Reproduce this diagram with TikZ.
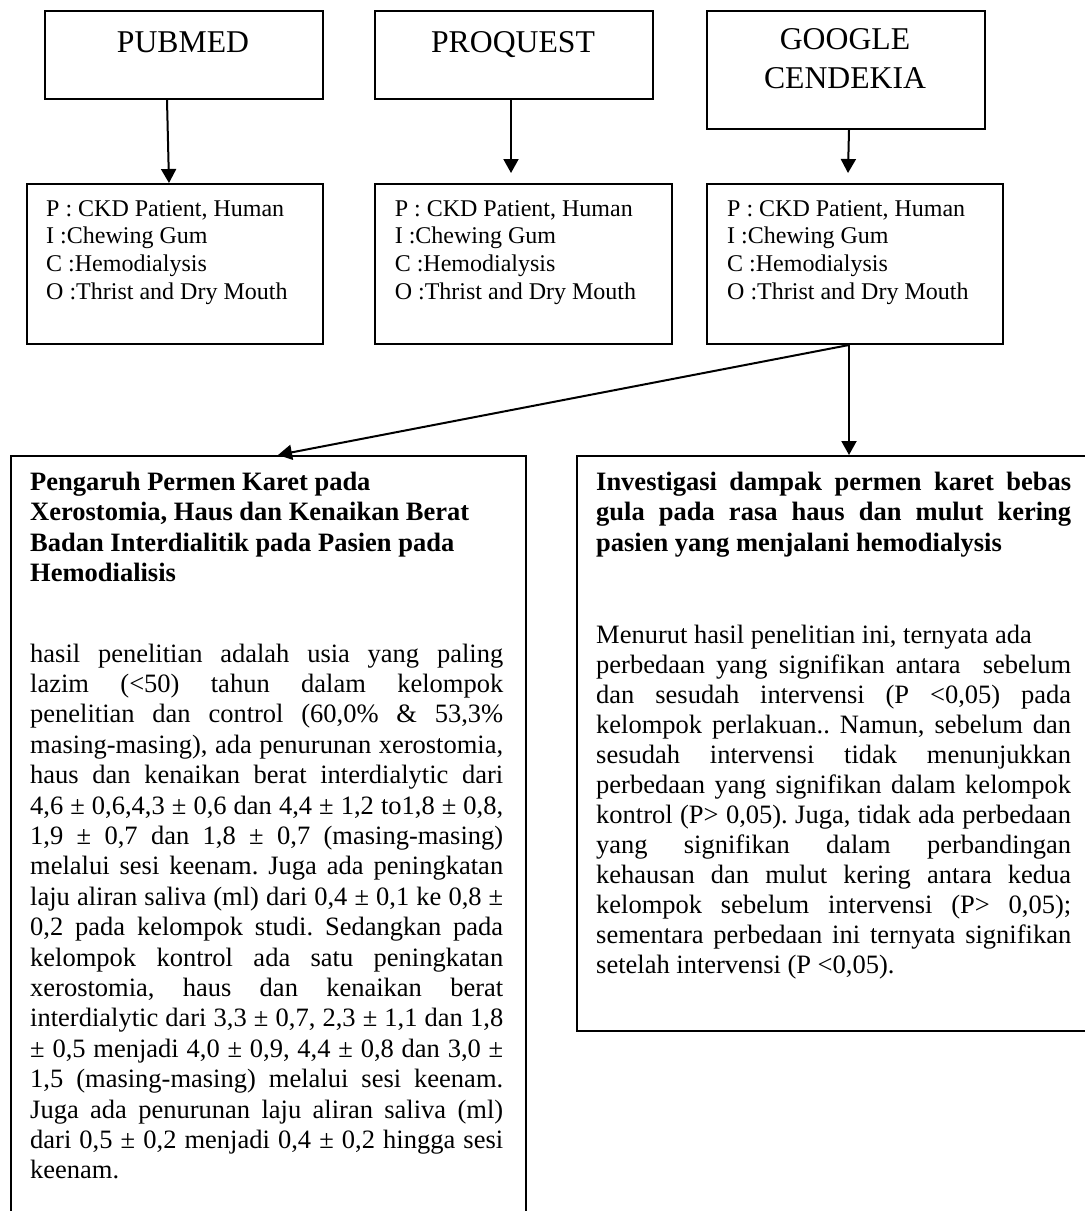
\documentclass[tikz,border=0pt]{standalone}
\usepackage{fontspec}
\setmainfont{Liberation Serif}
\usetikzlibrary{arrows.meta}
\frenchspacing
\newlength\lw
\newcommand\JL[1]{\hbox to \lw{#1}}
\newcommand\RL[1]{\hbox{#1}}
\newcommand\CL[1]{\hbox to 278pt{\hfil#1\hfil}}
\begin{document}
\begin{tikzpicture}[x=1pt,y=-1pt,
  box/.style={draw, line width=2pt, rectangle, inner sep=0pt, anchor=north west},
  arr/.style={line width=2pt, -{Triangle[width=15pt,length=14pt]}},
  hdr/.style={font=\fontsize{31.7}{39}\selectfont, inner sep=0pt, anchor=base},
  txt/.style={inner sep=0pt, anchor=base west}]
\path[use as bounding box, fill=white] (0,0) rectangle (1085,1211);
\clip (0,0) rectangle (1085,1211);

% database boxes
\node[box, minimum width=278pt, minimum height=88pt] (pubmed) at (44,10) {};
\node[box, minimum width=278pt, minimum height=88pt] (proquest) at (374,10) {};
\node[box, minimum width=278pt, minimum height=118pt] (google) at (706,10) {};
\node[hdr] (pubmedT) at (183,52) {PUBMED};
\node[hdr] (proquestT) at (513,52) {PROQUEST};
\node[hdr] (googleT) at (845,49) {\vtop{\baselineskip=39pt\CL{GOOGLE}\CL{CENDEKIA}}};

% PICO boxes
\node[box, minimum width=296pt, minimum height=160pt] (picoA) at (26,183) {};
\node[box, minimum width=297pt, minimum height=160pt] (picoB) at (374,183) {};
\node[box, minimum width=296pt, minimum height=160pt] (picoC) at (706,183) {};
\foreach \nm/\xx in {picoAT/46, picoBT/394.6, picoCT/727}{
  \node[txt] (\nm) at (\xx,216) {\vtop{\fontsize{24}{27.7}\selectfont
    \RL{P : CKD Patient, Human}
    \RL{I :Chewing Gum}
    \RL{C :Hemodialysis}
    \RL{O :Thrist and Dry Mouth}}};
}

% result boxes
\node[box, minimum width=515pt, minimum height=800pt] (resA) at (10,455) {};
\node[box, minimum width=519pt, minimum height=575pt] (resB) at (576,455) {};

% arrows
\draw[arr] ([xshift=-17pt]pubmed.south) -- ([xshift=-6pt]picoA.north);
\draw[arr] ([xshift=-3pt]proquest.south) -- ([xshift=-12.5pt,yshift=10pt]picoB.north);
\draw[arr] ([xshift=3pt]google.south) -- ([xshift=-7pt,yshift=10pt]picoC.north);
\draw[arr] ([xshift=-6pt]picoC.south) -- ([xshift=9.5pt]resA.north);
\draw[arr] ([xshift=-6pt]picoC.south) -- ([xshift=12.5pt]resB.north);

% left result text
\node[txt] (titleA) at (30,490) {\vtop{\fontsize{26.5}{30.6}\selectfont\bfseries
  \RL{Pengaruh Permen Karet pada}
  \RL{Xerostomia, Haus dan Kenaikan Berat}
  \RL{Badan Interdialitik pada Pasien pada}
  \RL{Hemodialisis}}};
\node[txt] (bodyA) at (30,662) {\setlength\lw{473pt}\vtop{\fontsize{26.5}{30.4}\selectfont
  \JL{hasil penelitian adalah usia yang paling}
  \JL{lazim (<50) tahun dalam kelompok}
  \JL{penelitian dan control (60,0\% \& 53,3\%}
  \JL{masing-masing), ada penurunan xerostomia,}
  \JL{haus dan kenaikan berat interdialytic dari}
  \JL{4,6 ± 0,6,4,3 ± 0,6 dan 4,4 ± 1,2 to1,8 ± 0,8,}
  \JL{1,9 ± 0,7 dan 1,8 ± 0,7 (masing-masing)}
  \JL{melalui sesi keenam. Juga ada peningkatan}
  \JL{laju aliran saliva (ml) dari 0,4 ± 0,1 ke 0,8 ±}
  \JL{0,2 pada kelompok studi. Sedangkan pada}
  \JL{kelompok kontrol ada satu peningkatan}
  \JL{xerostomia, haus dan kenaikan berat}
  \JL{interdialytic dari 3,3 ± 0,7, 2,3 ± 1,1 dan 1,8}
  \JL{± 0,5 menjadi 4,0 ± 0,9, 4,4 ± 0,8 dan 3,0 ±}
  \JL{1,5 (masing-masing) melalui sesi keenam.}
  \JL{Juga ada penurunan laju aliran saliva (ml)}
  \JL{dari 0,5 ± 0,2 menjadi 0,4 ± 0,2 hingga sesi}
  \RL{keenam.}}};

% right result text
\node[txt] (titleB) at (596,490) {\setlength\lw{475pt}\vtop{\fontsize{26.5}{30.5}\selectfont\bfseries
  \JL{Investigasi dampak permen karet bebas}
  \JL{gula pada rasa haus dan mulut kering}
  \RL{pasien yang menjalani hemodialysis}}};
\node[txt] (bodyB) at (596,643) {\setlength\lw{475pt}\vtop{\fontsize{26.5}{30}\selectfont
  \RL{Menurut hasil penelitian ini, ternyata ada}
  \JL{perbedaan yang signifikan antara \ sebelum}
  \JL{dan sesudah intervensi (P <0,05) pada}
  \JL{kelompok perlakuan.. Namun, sebelum dan}
  \JL{sesudah intervensi tidak menunjukkan}
  \JL{perbedaan yang signifikan dalam kelompok}
  \JL{kontrol (P> 0,05). Juga, tidak ada perbedaan}
  \JL{yang signifikan dalam perbandingan}
  \JL{kehausan dan mulut kering antara kedua}
  \JL{kelompok sebelum intervensi (P> 0,05);}
  \JL{sementara perbedaan ini ternyata signifikan}
  \RL{setelah intervensi (P <0,05).}}};
\end{tikzpicture}
\end{document}
